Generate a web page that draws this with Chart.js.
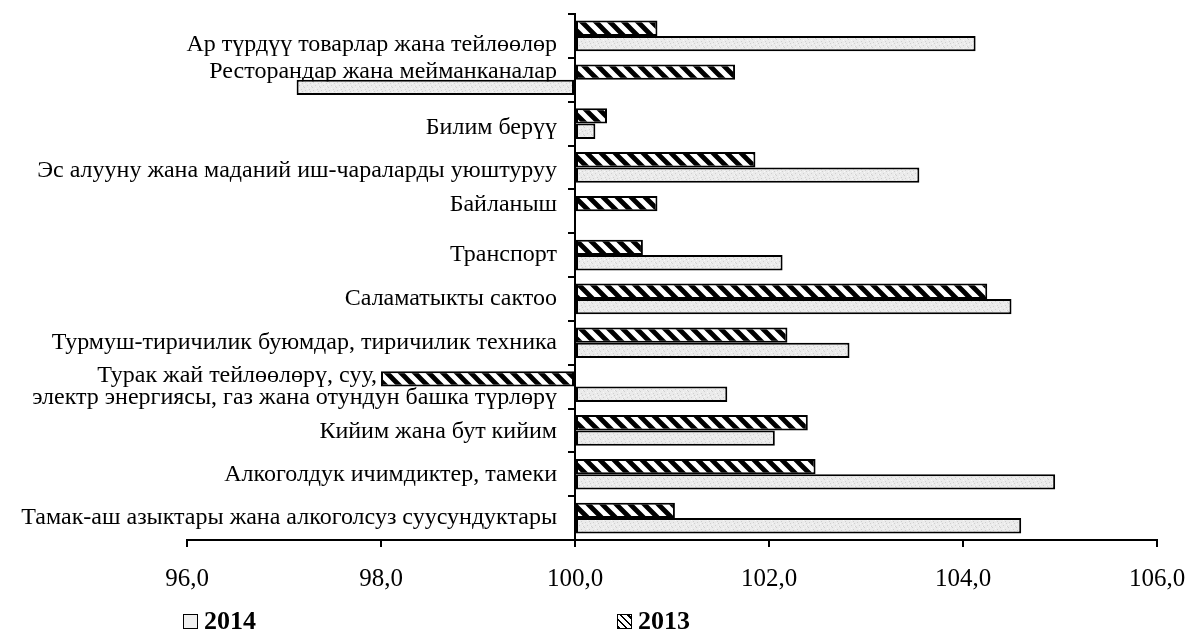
<!DOCTYPE html>
<html>
<head>
<meta charset="utf-8">
<script src="https://cdn.jsdelivr.net/npm/chart.js@4.4.1/dist/chart.umd.min.js"></script>
<style>
  html, body { margin: 0; padding: 0; background: #fff; }
  #wrap { position: relative; width: 1186px; height: 632px; }
  #legend { position: absolute; left: 0; top: 0; width: 1186px; height: 632px; pointer-events: none;
            font-family: 'Liberation Serif', 'Times New Roman', serif; font-weight: bold; font-size: 26px; color: #000; }
  .item { position: absolute; top: 607px; height: 28px; display: flex; align-items: center; }
  .box { width: 13px; height: 13px; border: 1.5px solid #000; margin-right: 6px; box-sizing: content-box; }
</style>
</head>
<body>
<div id="wrap">
  <canvas id="c" width="1186" height="632"></canvas>
  <div id="legend"></div>
</div>
<script>
// ---- data (top to bottom as in the reference) ----
const categories = [
  'Ар түрдүү товарлар жана тейлөөлөр',
  'Ресторандар жана мейманканалар',
  'Билим берүү',
  'Эс алууну жана маданий иш-чараларды уюштуруу',
  'Байланыш',
  'Транспорт',
  'Саламатыкты сактоо',
  'Турмуш-тиричилик буюмдар, тиричилик техника',
  ['Турак жай тейлөөлөрү, суу,', 'электр энергиясы, газ жана отундун башка түрлөрү'],
  'Кийим жана бут кийим',
  'Алкоголдук ичимдиктер, тамеки',
  'Тамак-аш азыктары жана алкоголсуз суусундуктары'
];
const values2013 = [100.85, 101.65, 100.33, 101.86, 100.85, 100.70, 104.25, 102.19, 98.00, 102.40, 102.48, 101.03];
const values2014 = [104.13, 97.13, 100.21, 103.55, 100.00, 102.14, 104.50, 102.83, 101.57, 102.06, 104.95, 104.60];
const seriesNames = ['2013', '2014'];
const xTickValues = [96, 98, 100, 102, 104, 106];
const baseValue = 100;

// ---- layout tweaks for the category labels (vertical nudge in px, per row) ----
const labelNudge = [9, -8, 4, 3, -7, 0, 0, 0, 0, 1, 0, 0];

// ---- fills ----
function hatchCanvas(p, w) {
  const c = document.createElement('canvas');
  c.width = p; c.height = p;
  const g = c.getContext('2d');
  g.fillStyle = '#fff'; g.fillRect(0, 0, p, p);
  g.strokeStyle = '#000'; g.lineWidth = w;
  g.beginPath();
  for (const k of [-1, 0, 1]) { g.moveTo(k * p - 2, -2); g.lineTo(k * p + p + 2, p + 2); }
  g.stroke();
  return c;
}
function stippleCanvas() {
  const p = 8;
  const c = document.createElement('canvas');
  c.width = p; c.height = p;
  const g = c.getContext('2d');
  g.fillStyle = '#ebebeb'; g.fillRect(0, 0, p, p);
  g.fillStyle = '#d0d0d0';
  [[1, 2], [5, 1], [3, 5], [7, 6], [0, 7], [6, 3]].forEach(([x, y]) => g.fillRect(x, y, 1, 1));
  g.fillStyle = '#f8f8f8';
  [[3, 0], [0, 4], [4, 3], [6, 6]].forEach(([x, y]) => g.fillRect(x, y, 1, 1));
  return c;
}

const ctx = document.getElementById('c').getContext('2d');
const hatch = ctx.createPattern(hatchCanvas(14, 4.8), 'repeat');
const stipple = ctx.createPattern(stippleCanvas(), 'repeat');

const labelFont = 'Liberation Serif';
const gap = '   ';   // space between label and axis tick marks

new Chart(ctx, {
  type: 'bar',
  data: {
    labels: categories,
    datasets: [
      { label: seriesNames[0], data: values2013, base: baseValue, backgroundColor: hatch,
        borderColor: '#000', borderWidth: 2, borderSkipped: false },
      { label: seriesNames[1], data: values2014, base: baseValue, backgroundColor: stipple,
        borderColor: '#000', borderWidth: 2, borderSkipped: false }
    ]
  },
  options: {
    indexAxis: 'y',
    responsive: false,
    animation: false,
    events: [],
    datasets: { bar: { categoryPercentage: 0.7, barPercentage: 1 } },
    layout: { padding: { left: 187, right: 29, top: 14, bottom: 21 } },
    plugins: { legend: { display: false }, tooltip: { enabled: false } },
    scales: {
      x: {
        type: 'linear', position: 'bottom', min: 96, max: 106,
        afterBuildTicks: s => { s.ticks = xTickValues.map(v => ({ value: v })); },
        afterFit: s => { s.paddingLeft = 0; s.paddingRight = 0; },
        grid: { drawOnChartArea: false, drawTicks: true, tickLength: 7, color: '#000', lineWidth: 2 },
        border: { display: true, color: '#000', width: 2 },
        ticks: { color: '#000', padding: 17, maxRotation: 0, autoSkip: false,
                 font: { family: labelFont, size: 25 },
                 callback: v => Number(v).toFixed(1).replace('.', ',') }
      },
      y: {
        type: 'category', position: { x: baseValue }, offset: true,
        grid: { offset: true, drawOnChartArea: false, drawTicks: true, tickLength: 6, color: '#000', lineWidth: 2 },
        border: { display: true, color: '#000', width: 2 },
        afterFit: s => { s.paddingTop = 0; s.paddingBottom = 0; },
        ticks: {
          color: '#000', padding: 12, autoSkip: false,
          font: c => {
            const lbl = categories[c.index];
            const n = labelNudge[c.index] || 0;
            const lh = Array.isArray(lbl) ? 22 : (n !== 0 ? 2 * Math.abs(n) : 26);
            return { family: labelFont, size: 24, lineHeight: lh + 'px' };
          },
          callback: function (value, index) {
            const label = this.getLabelForValue(value);
            if (Array.isArray(label)) return [label[0] + ' '.repeat(30) + gap, label[1] + gap];
            const n = labelNudge[index] || 0;
            if (n > 0) return ['', label + gap];
            if (n < 0) return [label + gap, ''];
            return label + gap;
          }
        }
      }
    }
  }
});

// ---- legend (2014 first, then 2013, as in the reference) ----
const legend = document.getElementById('legend');
const legendItems = [
  { name: seriesNames[1], left: 183, bg: '#f0f0f0' },
  { name: seriesNames[0], left: 617, bg: 'repeating-linear-gradient(45deg, #000 0 2px, #fff 2px 5px)' }
];
legendItems.forEach(it => {
  const d = document.createElement('div');
  d.className = 'item';
  d.style.left = it.left + 'px';
  const b = document.createElement('span');
  b.className = 'box';
  b.style.background = it.bg;
  const t = document.createElement('span');
  t.textContent = it.name;
  d.appendChild(b); d.appendChild(t);
  legend.appendChild(d);
});
</script>
</body>
</html>
